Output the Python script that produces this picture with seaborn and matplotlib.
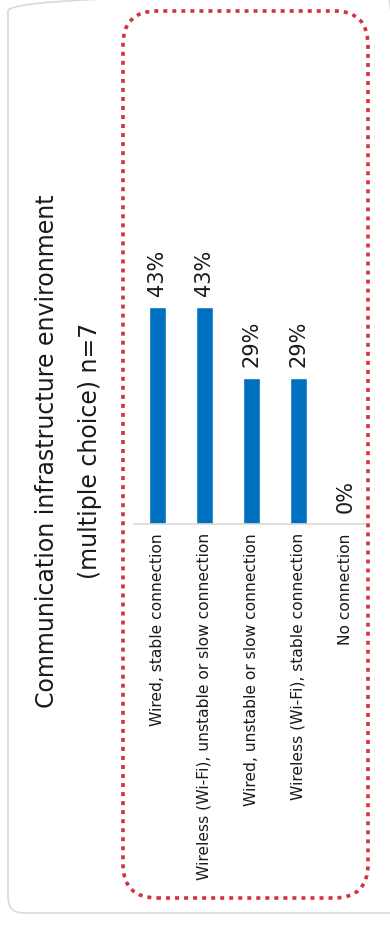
import matplotlib
matplotlib.use("Agg")
import matplotlib.pyplot as plt
from matplotlib.patches import FancyBboxPatch
import seaborn as sns
import pandas as pd

# Survey data: communication infrastructure environment (multiple choice), n=7
categories = [
    "Wired, stable connection",
    "Wireless (Wi-Fi), unstable or slow connection",
    "Wired, unstable or slow connection",
    "Wireless (Wi-Fi), stable connection",
    "No connection",
]
shares = [43, 43, 29, 29, 0]
title_lines = ["Communication infrastructure environment", "(multiple choice) n=7"]

df = pd.DataFrame({"category": categories, "share": shares})

sns.set_theme(style="white")
plt.rcParams["font.family"] = ["DejaVu Sans"]

W, H = 390, 926
fig = plt.figure(figsize=(W / 100, H / 100), dpi=100)
fig.patch.set_facecolor("white")

# outer card and dotted highlight frame, drawn in inch units so corners stay round
card = FancyBboxPatch((0.08, 0.13), 3.95, 9.18,
                      boxstyle="round,pad=0,rounding_size=0.16",
                      transform=fig.dpi_scale_trans, facecolor="none",
                      edgecolor="#d9d9d9", linewidth=1.2, zorder=-1)
fig.patches.append(card)

frame = FancyBboxPatch((1.23, 0.28), 2.45, 8.87,
                       boxstyle="round,pad=0,rounding_size=0.34",
                       transform=fig.dpi_scale_trans, facecolor="none",
                       edgecolor="#d3323e", linewidth=2.6,
                       linestyle=(0, (1.1, 1.4)), zorder=5)
fig.patches.append(frame)

# plot area (pixel-based placement)
ax_left, ax_right = 134, 368.6
ax_base, ax_top = 524, 272
ax = fig.add_axes([ax_left / W, (H - ax_base) / H,
                   (ax_right - ax_left) / W, (ax_base - ax_top) / H])
ax.set_facecolor("none")

sns.barplot(data=df, x="category", y="share", color="#0070c0",
            width=0.355, saturation=1, ax=ax)

ax.set_ylim(0, 50)
ax.set_xlim(-0.5, len(categories) - 0.5)
ax.set_xlabel("")
ax.set_ylabel("")
ax.set_yticks([])
for side in ("left", "right", "top"):
    ax.spines[side].set_visible(False)
ax.spines["bottom"].set_color("#d9d9d9")
ax.spines["bottom"].set_linewidth(1.2)

ax.set_xticks(range(len(categories)))
ax.set_xticklabels(categories, rotation=90, fontsize=11.2, color="#1a1a1a",
                   ha="center", va="top")
ax.tick_params(axis="x", length=0, pad=6.5)

# value labels above each bar
for i, v in enumerate(shares):
    ax.annotate(f"{v}%", xy=(i, v), xytext=(0, 8), textcoords="offset points",
                rotation=90, ha="center", va="bottom", fontsize=15,
                color="#1a1a1a")

# two-line rotated title
fig.text(47 / W, 1 - 451 / H, title_lines[0], rotation=90, ha="center",
         va="center", fontsize=17, color="#1a1a1a")
fig.text(90 / W, 1 - 451 / H, title_lines[1], rotation=90, ha="center",
         va="center", fontsize=17, color="#1a1a1a")

fig.savefig("out.png", dpi=100, facecolor="white")
